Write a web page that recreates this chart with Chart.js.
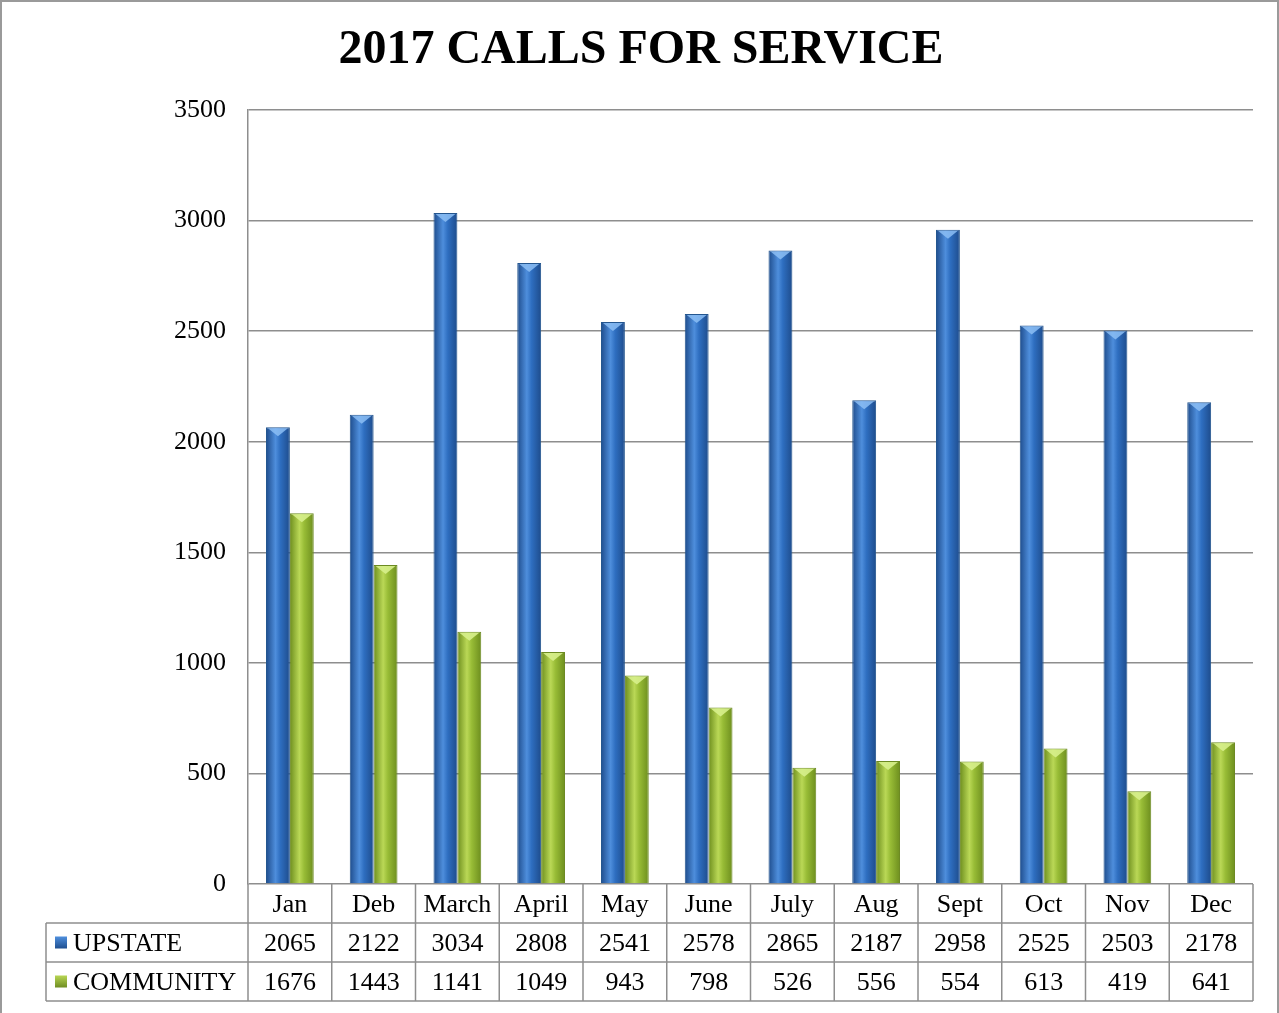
<!DOCTYPE html>
<html>
<head>
<meta charset="utf-8">
<script src="https://cdn.jsdelivr.net/npm/chart.js@4.4.1/dist/chart.umd.min.js"></script>
<style>
  html, body { margin: 0; padding: 0; background: #fff; }
  #wrap { width: 1279px; height: 1013px; }
</style>
</head>
<body>
<div id="wrap"><canvas id="callsChart"></canvas></div>
<script>
// data
const months = ["Jan", "Deb", "March", "April", "May", "June", "July", "Aug", "Sept", "Oct", "Nov", "Dec"];
const upstate = [2065, 2122, 3034, 2808, 2541, 2578, 2865, 2187, 2958, 2525, 2503, 2178];
const community = [1676, 1443, 1141, 1049, 943, 798, 526, 556, 554, 613, 419, 641];
const seriesNames = ["UPSTATE", "COMMUNITY"];

const serif = "'Liberation Serif', 'Times New Roman', serif";
const lineGray = "#8e8e8e";
const catPct = 0.57;

// horizontal shading so the bars look like the rounded office columns
function barGradient(ctx, dark, mid, light) {
  const chart = ctx.chart;
  const xs = chart.scales.x;
  if (!xs || ctx.dataIndex == null) return mid;
  const centre = xs.getPixelForValue(ctx.dataIndex);
  const w = (xs.width / months.length) * catPct / 2;
  if (!isFinite(centre) || !isFinite(w) || w <= 0) return mid;
  const x0 = ctx.datasetIndex === 0 ? centre - w : centre;
  const g = chart.ctx.createLinearGradient(x0, 0, x0 + w, 0);
  g.addColorStop(0, dark);
  g.addColorStop(0.4, light);
  g.addColorStop(0.6, mid);
  g.addColorStop(1, dark);
  return g;
}

const frameAndTable = {
  id: "frameAndTable",
  afterDatasetsDraw(chart) {
    const c = chart.ctx;
    const area = chart.chartArea;
    const xs = chart.scales.x;
    const step = xs.width / months.length;

    // bevel caps on top of bars
    chart.data.datasets.forEach((ds, di) => {
      chart.getDatasetMeta(di).data.forEach(bar => {
        const l = bar.x - bar.width / 2, r = bar.x + bar.width / 2, t = bar.y;
        c.save();
        c.fillStyle = di === 0 ? "rgba(140,190,245,0.85)" : "rgba(215,240,140,0.9)";
        c.beginPath();
        c.moveTo(l + 2, t + 1);
        c.lineTo(r - 2, t + 1);
        c.lineTo(bar.x, t + 9);
        c.closePath();
        c.fill();
        c.restore();
      });
    });

    const rowH = 39;
    const top = area.bottom;
    const legendLeft = 46;
    c.save();
    c.strokeStyle = lineGray;
    c.lineWidth = 1.5;
    // header row (months)
    c.beginPath();
    c.moveTo(area.left, top + rowH);
    c.lineTo(area.right, top + rowH);
    for (let i = 0; i <= months.length; i++) {
      const x = area.left + i * step;
      c.moveTo(x, top);
      c.lineTo(x, top + rowH * 3);
    }
    // series rows
    c.moveTo(legendLeft, top + rowH);
    c.lineTo(area.left, top + rowH);
    c.moveTo(legendLeft, top + rowH * 2);
    c.lineTo(area.right, top + rowH * 2);
    c.moveTo(legendLeft, top + rowH * 3);
    c.lineTo(area.right, top + rowH * 3);
    c.moveTo(legendLeft, top + rowH);
    c.lineTo(legendLeft, top + rowH * 3);
    c.stroke();

    c.fillStyle = "#000";
    c.font = "26px " + serif;
    c.textAlign = "center";
    c.textBaseline = "middle";
    const rows = [upstate, community];
    months.forEach((m, i) => {
      const x = xs.getPixelForValue(i);
      c.fillText(m, x, top + rowH / 2 + 2);
      rows.forEach((vals, r) => {
        c.fillText(String(vals[i]), x, top + rowH * (r + 1.5) + 2);
      });
    });
    // legend keys
    const keyCols = [["#1f4f8f", "#4f8fde"], ["#6f8d22", "#b8d654"]];
    c.textAlign = "left";
    seriesNames.forEach((name, r) => {
      const y = top + rowH * (r + 1.5);
      const g = c.createLinearGradient(0, y - 6, 0, y + 6);
      g.addColorStop(0, keyCols[r][1]);
      g.addColorStop(1, keyCols[r][0]);
      c.fillStyle = g;
      c.fillRect(55, y - 6, 12, 12);
      c.fillStyle = "#000";
      c.fillText(name, 73, y + 2);
    });

    // title
    c.font = "bold 48px " + serif;
    c.textAlign = "center";
    c.fillText("2017 CALLS FOR SERVICE", 641, 51);

    // page frame
    c.strokeStyle = "#9a9a9a";
    c.lineWidth = 2;
    c.beginPath();
    c.moveTo(1, 1013);
    c.lineTo(1, 1);
    c.lineTo(1278, 1);
    c.lineTo(1278, 1013);
    c.stroke();
    c.restore();
  }
};

const ctx = document.getElementById("callsChart").getContext("2d");
new Chart(ctx, {
  type: "bar",
  data: {
    labels: months,
    datasets: [
      {
        label: seriesNames[0],
        data: upstate,
        backgroundColor: (c) => barGradient(c, "#1e4c8c", "#2e6ec0", "#4e8edc"),
        borderColor: "#24568f",
        borderWidth: 1
      },
      {
        label: seriesNames[1],
        data: community,
        backgroundColor: (c) => barGradient(c, "#6d8e1e", "#98bc36", "#bad856"),
        borderColor: "#6c8a22",
        borderWidth: 1
      }
    ]
  },
  options: {
    responsive: true,
    maintainAspectRatio: false,
    animation: false,
    devicePixelRatio: 1,
    layout: { padding: { top: 110, right: 26, bottom: 129, left: 0 } },
    datasets: { bar: { categoryPercentage: catPct, barPercentage: 1.0 } },
    plugins: {
      legend: { display: false },
      title: { display: false },
      tooltip: { enabled: false }
    },
    scales: {
      x: { display: false },
      y: {
        min: 0,
        max: 3500,
        afterFit(axis) { axis.width = 248; },
        ticks: {
          stepSize: 500,
          padding: 22,
          color: "#000",
          font: { family: serif, size: 26 },
          callback: (v) => String(v)
        },
        grid: { color: lineGray, lineWidth: 1.5, drawTicks: false },
        border: { color: lineGray, width: 1.5 }
      }
    }
  },
  plugins: [frameAndTable]
});
</script>
</body>
</html>
